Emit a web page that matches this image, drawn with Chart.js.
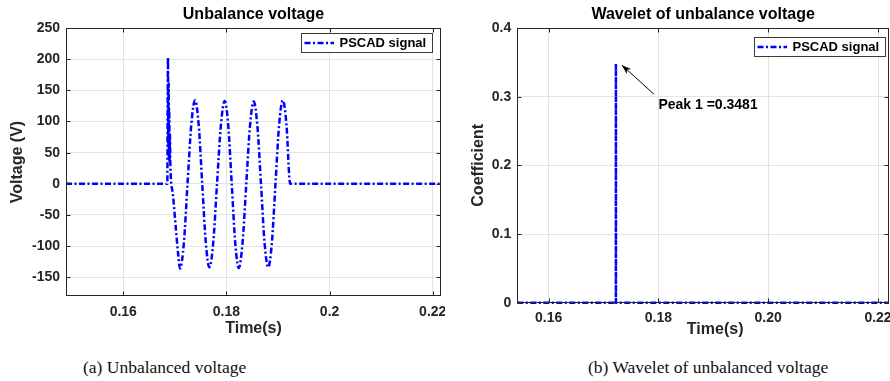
<!DOCTYPE html>
<html>
<head>
<meta charset="utf-8">
<script src="https://cdn.jsdelivr.net/npm/chart.js@4.4.1/dist/chart.umd.min.js"></script>
<style>
  body { margin: 0; background: #fff; }
  #wrap { position: relative; width: 890px; height: 381px; overflow: hidden; }
  canvas { position: absolute; top: 0; }
  .cap { position: absolute; top: 357px; font-family: "Liberation Serif", "Times New Roman", serif; font-size: 17.5px; line-height: 20px; color: #111; white-space: nowrap; }
</style>
</head>
<body>
<div id="wrap">
  <canvas id="voltChart" width="445" height="345" style="left:0"></canvas>
  <canvas id="waveChart" width="445" height="345" style="left:445px"></canvas>
  <div class="cap" style="left:83px">(a) Unbalanced voltage</div>
  <div class="cap" style="left:588px">(b) Wavelet of unbalanced voltage</div>
</div>
<script>
// --- data: unbalance voltage (PSCAD signal) ---
const voltTime = [
  0.1489, 0.16854, 0.16862, 0.16868, 0.16874, 0.16880, 0.16885, 0.16891, 0.16897, 0.16905,
  0.16913, 0.16960, 0.17023, 0.17062, 0.17101,
  0.17174, 0.17246, 0.17319, 0.17392,
  0.17462, 0.17531, 0.17601, 0.17670,
  0.17744, 0.17818, 0.17893, 0.17967,
  0.18035, 0.18103, 0.18171, 0.18239,
  0.18312, 0.18385, 0.18457, 0.18530,
  0.18600, 0.18670, 0.18740, 0.18810,
  0.18881, 0.18951, 0.19022, 0.19093,
  0.19164, 0.19236, 0.2216
];
const voltValue = [
  0, 0, 150, 203, 60, 160, 40, 120, 35, 80,
  30, -15, -75, -111, -136,
  -96, 0, 95, 134,
  95, 0, -95, -134,
  -95, 0, 94, 133,
  94, 0, -95, -135,
  -95, 0, 93, 132,
  93, 0, -95, -134,
  -95, 0, 95, 134,
  95, 0, 0
];
const voltXTicks = [0.16, 0.18, 0.2, 0.22];
const voltXLabels = ['0.16', '0.18', '0.2', '0.22'];
const voltYTicks = [-150, -100, -50, 0, 50, 100, 150, 200, 250];

// --- data: wavelet coefficient ---
const waveTime = [0.1543, 0.17225, 0.17226, 0.17227, 0.2220];
const waveValue = [0, 0, 0.3481, 0, 0];
const waveXTicks = [0.16, 0.18, 0.20, 0.22];
const waveXLabels = ['0.16', '0.18', '0.20', '0.22'];
const waveYTicks = [0, 0.1, 0.2, 0.3, 0.4];
const waveYLabels = ['0', '0.1', '0.2', '0.3', '0.4'];
const peakTime = 0.17226;
const peakValue = 0.3481;

Chart.defaults.font.family = '"Liberation Sans", Arial, sans-serif';
Chart.defaults.color = '#262626';

const axisColor = '#262626';
const gridColor = '#e3e3e3';

// box around the axes plus small inward ticks (matlab style)
const frameBox = {
  id: 'frameBox',
  afterDatasetsDraw(chart) {
    const { ctx, chartArea: a, scales } = chart;
    const l = Math.round(a.left) + 0.5, r = Math.round(a.right) - 0.5;
    const t = Math.round(a.top) + 0.5, b = Math.round(a.bottom) - 0.5;
    ctx.save();
    ctx.strokeStyle = axisColor;
    ctx.lineWidth = 1;
    ctx.strokeRect(l, t, r - l, b - t);
    ctx.beginPath();
    scales.x.ticks.forEach(tk => {
      const px = Math.round(scales.x.getPixelForValue(tk.value)) + 0.5;
      ctx.moveTo(px, b); ctx.lineTo(px, b - 4);
      ctx.moveTo(px, t); ctx.lineTo(px, t + 4);
    });
    scales.y.ticks.forEach(tk => {
      const py = Math.round(scales.y.getPixelForValue(tk.value)) + 0.5;
      ctx.moveTo(l, py); ctx.lineTo(l + 4, py);
      ctx.moveTo(r, py); ctx.lineTo(r - 4, py);
    });
    ctx.stroke();
    ctx.restore();
  }
};

// legend box drawn inside the plot, top right
const boxLegend = {
  id: 'boxLegend',
  afterDraw(chart, args, opts) {
    const { ctx, chartArea: a } = chart;
    const ds = chart.data.datasets[0];
    const w = 131, h = 19;
    const x = Math.round(a.right - opts.right - w), y = Math.round(a.top + opts.top);
    ctx.save();
    ctx.fillStyle = '#fff';
    ctx.fillRect(x, y, w, h);
    ctx.strokeStyle = '#3a3a3a';
    ctx.lineWidth = 1;
    ctx.strokeRect(x + 0.5, y + 0.5, w, h);
    ctx.strokeStyle = ds.borderColor;
    ctx.lineWidth = ds.borderWidth;
    ctx.setLineDash(ds.borderDash);
    ctx.beginPath();
    ctx.moveTo(x + 3.5, y + h / 2 + 0.5);
    ctx.lineTo(x + 33, y + h / 2 + 0.5);
    ctx.stroke();
    ctx.setLineDash([]);
    ctx.fillStyle = '#000';
    ctx.font = 'bold 13px "Liberation Sans", Arial, sans-serif';
    ctx.textBaseline = 'middle';
    ctx.fillText(ds.label, x + 38.5, y + h / 2 + 1);
    ctx.restore();
  }
};

// arrow + text pointing at the wavelet peak
const peakNote = {
  id: 'peakNote',
  afterDatasetsDraw(chart, args, opts) {
    const { ctx, scales } = chart;
    const px = scales.x.getPixelForValue(opts.x);
    const py = scales.y.getPixelForValue(opts.y);
    const tipX = px + 6, tipY = py + 1.5;
    const tailX = px + 38, tailY = py + 30.5;
    const ang = Math.atan2(tipY - tailY, tipX - tailX);
    ctx.save();
    ctx.strokeStyle = '#000';
    ctx.fillStyle = '#000';
    ctx.lineWidth = 1;
    ctx.beginPath();
    ctx.moveTo(tailX, tailY);
    ctx.lineTo(tipX, tipY);
    ctx.stroke();
    ctx.beginPath();
    ctx.moveTo(tipX, tipY);
    ctx.lineTo(tipX - 10 * Math.cos(ang - 0.33), tipY - 10 * Math.sin(ang - 0.33));
    ctx.lineTo(tipX - 7 * Math.cos(ang), tipY - 7 * Math.sin(ang));
    ctx.lineTo(tipX - 10 * Math.cos(ang + 0.33), tipY - 10 * Math.sin(ang + 0.33));
    ctx.closePath();
    ctx.fill();
    ctx.font = 'bold 14px "Liberation Sans", Arial, sans-serif';
    ctx.textBaseline = 'middle';
    ctx.fillText(opts.text, px + 42.5, py + 41.5);
    ctx.restore();
  }
};

function lineDataset(xs, ys, smooth) {
  return {
    label: 'PSCAD signal',
    data: xs.map((x, i) => ({ x: x, y: ys[i] })),
    borderColor: '#0000ff',
    borderWidth: 2.5,
    borderDash: [6, 2.5, 2, 2.5],
    pointRadius: 0,
    cubicInterpolationMode: smooth ? 'monotone' : 'default',
    tension: 0,
    clip: 4
  };
}

function makeOptions(o) {
  return {
    responsive: false,
    animation: false,
    layout: { padding: { left: 0, right: o.padRight, top: 0, bottom: 0 } },
    plugins: {
      legend: { display: false },
      tooltip: { enabled: false },
      title: {
        display: true,
        text: o.title,
        color: '#000',
        fullSize: false,
        font: { size: 16, weight: 'bold' },
        padding: { top: 5, bottom: 3.8 }
      },
      boxLegend: o.legend,
      peakNote: o.note || {}
    },
    scales: {
      x: {
        type: 'linear',
        min: o.xMin, max: o.xMax,
        afterBuildTicks: s => { s.ticks = o.xTicks.map(v => ({ value: v })); },
        afterFit: s => { s.height = o.xHeight; s.paddingLeft = 0; s.paddingRight = 0; },
        grid: { color: gridColor, drawTicks: false },
        border: { display: false },
        ticks: {
          padding: o.xTickPad, maxRotation: 0, autoSkip: false,
          font: { size: 14, weight: 'bold' },
          callback: (v, i) => o.xLabels[i]
        },
        title: {
          display: true, text: o.xTitle, color: '#262626',
          font: { size: 16, weight: 'bold' },
          padding: { top: 0, bottom: o.xTitlePad }
        }
      },
      y: {
        min: o.yMin, max: o.yMax,
        afterBuildTicks: s => { s.ticks = o.yTicks.map(v => ({ value: v })); },
        afterFit: s => { s.width = o.yWidth; s.paddingTop = 0; s.paddingBottom = 0; },
        grid: { color: gridColor, drawTicks: false },
        border: { display: false },
        ticks: {
          padding: 6, autoSkip: false,
          font: { size: 14, weight: 'bold' },
          callback: (v, i) => o.yLabels ? o.yLabels[i] : String(v)
        },
        title: {
          display: true, text: o.yTitle, color: '#262626',
          font: { size: 16, weight: 'bold' },
          padding: { top: o.yTitlePad, bottom: 0 }
        }
      }
    }
  };
}

const voltChart = new Chart(document.getElementById('voltChart'), {
  type: 'line',
  data: { datasets: [lineDataset(voltTime, voltValue, true)] },
  options: makeOptions({
    title: 'Unbalance voltage', yTitle: 'Voltage (V)', xTitle: 'Time(s)',
    padRight: 4, xHeight: 49, yWidth: 66,
    xMin: 0.1489, xMax: 0.2216, yMin: -180, yMax: 250,
    xTicks: voltXTicks, xLabels: voltXLabels, yTicks: voltYTicks,
    xTickPad: 8, xTitlePad: 6.5, yTitlePad: 8,
    legend: { right: 9, top: 5 }
  }),
  plugins: [frameBox, boxLegend]
});

// the right-hand x label sits a little right of centre in the original
const waveChart = new Chart(document.getElementById('waveChart'), {
  type: 'line',
  data: { datasets: [lineDataset(waveTime, waveValue, false)] },
  options: makeOptions({
    title: 'Wavelet of unbalance voltage', yTitle: 'Coefficient', xTitle: '\u2002\u2002\u2002Time(s)',
    padRight: 1, xHeight: 42.3, yWidth: 72.3,
    xMin: 0.1543, xMax: 0.2220, yMin: 0, yMax: 0.4,
    xTicks: waveXTicks, xLabels: waveXLabels, yTicks: waveYTicks, yLabels: waveYLabels,
    xTickPad: 6.6, xTitlePad: 5.5, yTitlePad: 23.7,
    legend: { right: 4, top: 8.7 },
    note: { x: peakTime, y: peakValue, text: 'Peak 1 =' + peakValue }
  }),
  plugins: [frameBox, boxLegend, peakNote]
});
</script>
</body>
</html>
